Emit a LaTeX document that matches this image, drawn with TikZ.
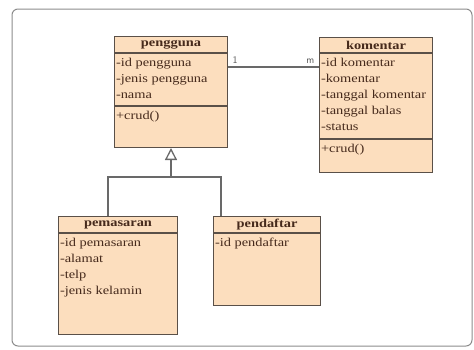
\documentclass[tikz,border=0pt]{standalone}
\usepackage{fontspec}
\setmainfont{Liberation Serif}[FakeStretch=1.2]
\usetikzlibrary{positioning, arrows.meta}

\definecolor{classfill}{RGB}{252,222,190}
\definecolor{classline}{RGB}{90,80,72}
\definecolor{classtext}{RGB}{70,42,28}
\definecolor{linkgray}{RGB}{105,105,105}
\definecolor{framegray}{RGB}{140,140,140}

% compartment: width, height, lines
\newcommand{\compart}[3]{\parbox[t][#2][t]{#1}{\raggedright\leftskip=1.5pt\rule{0pt}{13pt}#3}}

\tikzset{
  classname/.style={rectangle, draw=classline, fill=classfill, line width=1pt, inner sep=0pt, minimum height=16pt, anchor=north west, text=classtext, font=\fontsize{12}{14}\selectfont\bfseries},
  classpart/.style={rectangle, draw=classline, fill=classfill, line width=1pt, inner sep=0pt, text=classtext, font=\fontsize{12}{16}\selectfont},
  link/.style={draw=linkgray, line width=1.3pt},
  mult/.style={text=linkgray!80!black, font=\sffamily\fontsize{10}{12}\selectfont, inner sep=1pt},
}

\begin{document}
\begin{tikzpicture}[x=1pt, y=-1pt]
  \useasboundingbox (0,0) rectangle (474,349);
  % Frame
  \draw[framegray, line width=1pt, rounded corners=6pt] (12,9) rectangle (472,346);
  % Nodes
  \node (pgname) [classname, minimum width=113pt] at (114,36) {pengguna};
  \node (pgattr) [classpart, below=0pt of pgname] {\compart{113pt}{52pt}{-id pengguna\\-jenis pengguna\\-nama}};
  \node (pgmeth) [classpart, below=0pt of pgattr] {\compart{113pt}{41pt}{+crud()}};
  \node (kmname) [classname, minimum width=113pt, minimum height=15pt] at (319,37) {komentar};
  \node (kmattr) [classpart, below=0pt of kmname] {\compart{113pt}{85pt}{-id komentar\\-komentar\\-tanggal komentar\\-tanggal balas\\-status}};
  \node (kmmeth) [classpart, below=0pt of kmattr] {\compart{113pt}{33pt}{+crud()}};
  \node (pmname) [classname, minimum width=119pt] at (58,216) {pemasaran};
  \node (pmattr) [classpart, below=0pt of pmname] {\compart{119pt}{101pt}{-id pemasaran\\-alamat\\-telp\\-jenis kelamin}};
  \node (pdname) [classname, minimum width=107pt] at (213,216) {pendaftar};
  \node (pdattr) [classpart, below=0pt of pdname] {\compart{107pt}{72pt}{-id pendaftar}};
  \coordinate (gen) at ([yshift=-29pt]pgmeth.south);
  % Arrows
  \draw[link] ([yshift=-14pt]pgattr.north east) -- ([yshift=-14pt]kmattr.north west)
    node[mult, pos=0, above right=2pt and 3pt] {1}
    node[mult, pos=1, above left=2pt and 3pt] {m};
  \draw[link] ([xshift=50pt]pmname.north west) |- (gen) -| ([xshift=8pt]pdname.north west);
  \draw[link, -{Triangle[open, width=12pt, length=12pt, fill=white]}] (gen) -- (pgmeth.south);
\end{tikzpicture}
\end{document}
